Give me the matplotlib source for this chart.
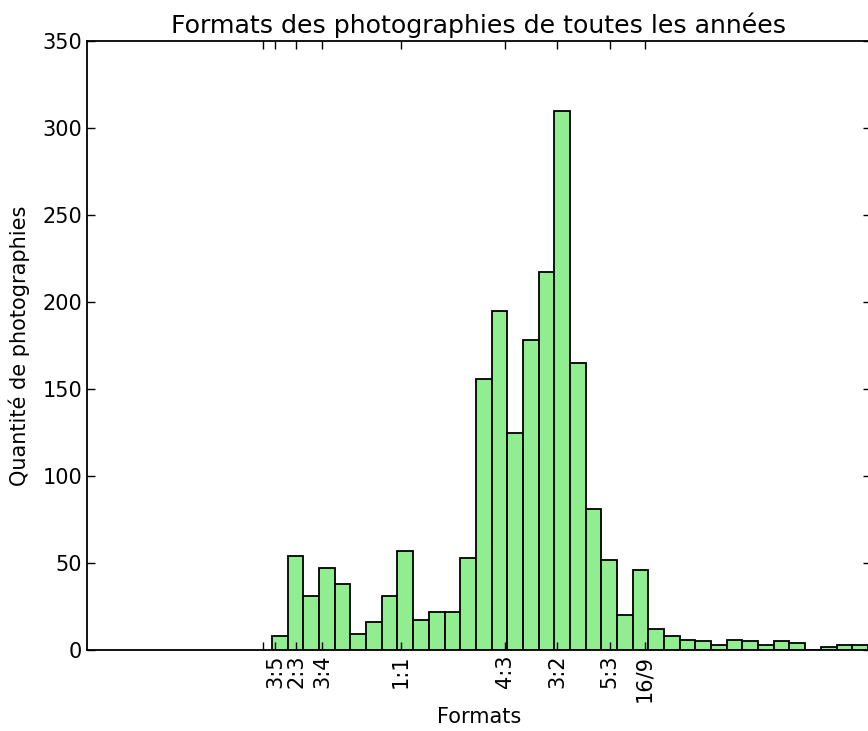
import numpy as np
from matplotlib import pyplot as plt

# histogram of picture aspect ratios, bins of 0.05 starting at 0.59
bin_start = 0.59
bin_width = 0.05
counts = [8, 54, 31, 47, 38, 9, 16, 31, 57, 17, 22, 22, 53, 156, 195, 125,
          178, 217, 310, 165, 81, 52, 20, 46, 12, 8, 6, 5, 3, 6, 5, 3, 5, 4,
          0, 2, 3, 3]

tick_values = [9 / 16, 3 / 5, 2 / 3, 3 / 4, 1, 4 / 3, 3 / 2, 5 / 3, 16 / 9]
tick_labels = ['', '3:5', '2:3', '3:4', '1:1', '4:3', '3:2', '5:3', '16/9']

edges = bin_start + bin_width * np.arange(len(counts))

plt.rcParams['font.family'] = 'DejaVu Sans'
plt.rcParams['font.size'] = 15

fig = plt.figure(figsize=(8.68, 7.31), dpi=100)
ax = fig.add_axes([87 / 868, 81 / 731, (871 - 87) / 868, 609 / 731])
ax.bar(edges, counts, width=bin_width, align='edge', color='lightgreen',
       edgecolor='black', linewidth=1.3)

ax.set_xlim(0, 2.5)
ax.set_ylim(0, 350)
ax.set_yticks(np.arange(0, 351, 50))
ax.set_xticks(tick_values)
ax.set_xticklabels(tick_labels, rotation=90)
ax.tick_params(direction='in', top=True, right=True, length=6, width=1)
for s in ax.spines.values():
    s.set_linewidth(1.3)

ax.set_title('Formats des photographies de toutes les années', fontsize=18.2)
ax.set_xlabel('Formats')
ax.set_ylabel('Quantité de photographies', labelpad=9)

plt.savefig('out.png', dpi=100)
